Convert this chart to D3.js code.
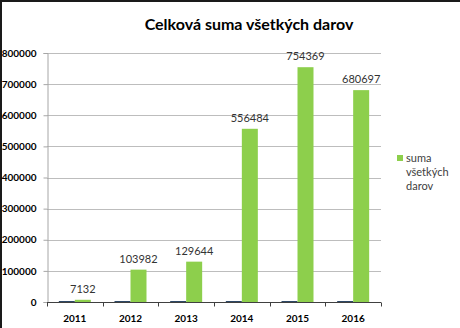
<!DOCTYPE html>
<html>
<head>
<meta charset="utf-8">
<script src="https://cdn.jsdelivr.net/npm/d3@7"></script>
<style>
  html, body { margin: 0; padding: 0; background: #fff; }
  svg { display: block; font-family: Lato, "Open Sans", sans-serif; }
</style>
</head>
<body>
<svg id="chart" width="460" height="328"></svg>
<script>
// chart data
const years = ['2011', '2012', '2013', '2014', '2015', '2016'];
const sumaDarov = [7132, 103982, 129644, 556484, 754369, 680697];
// second series, only visible as a hairline on the baseline
const druhaSeria = [3000, 3000, 3000, 3000, 3000, 3000];
const yTicks = [0, 100000, 200000, 300000, 400000, 500000, 600000, 700000, 800000];
const legendLines = ['suma', 'všetkých', 'darov'];

const width = 460, height = 328;
const plot = { left: 47, right: 381, top: 53, bottom: 302 };

const svg = d3.select('#chart');

// frame (top and left edge only)
svg.append('line').attr('x1', 0).attr('x2', width).attr('y1', 1).attr('y2', 1)
    .attr('stroke', '#1a1a1a').attr('stroke-width', 2);
svg.append('line').attr('x1', 1).attr('x2', 1).attr('y1', 0).attr('y2', height)
    .attr('stroke', '#1a1a1a').attr('stroke-width', 2);

// title
svg.append('text')
    .attr('x', 249).attr('y', 30)
    .attr('text-anchor', 'middle')
    .attr('font-size', 16).attr('font-weight', 'bold')
    .attr('fill', '#000')
    .text('Celková suma všetkých darov');

// scales
const x = d3.scaleBand().domain(years).range([plot.left, plot.right]).padding(0);
const y = d3.scaleLinear().domain([0, 800000]).range([plot.bottom, plot.top]);
const bw = x.bandwidth();
const sub = d3.scaleBand().domain(['druha', 'suma']).range([bw / 2 - 16, bw / 2 + 16]);

// gridlines
svg.append('g').selectAll('line')
    .data(yTicks.filter(d => d > 0))
    .enter().append('line')
    .attr('x1', plot.left).attr('x2', plot.right)
    .attr('y1', d => Math.round(y(d)) + 0.5).attr('y2', d => Math.round(y(d)) + 0.5)
    .attr('stroke', '#bdbdbd');

// y axis
const yAxis = svg.append('g')
    .attr('transform', `translate(${plot.left + 0.5},0)`)
    .call(d3.axisLeft(y).tickValues(yTicks).tickSize(4).tickPadding(7).tickFormat(d3.format('d')));
yAxis.select('.domain').attr('stroke', '#a6a6a6');
yAxis.selectAll('.tick line').attr('stroke', '#a6a6a6');
yAxis.selectAll('.tick text')
    .attr('font-size', 10).attr('font-weight', 'bold').attr('fill', '#000')
    .attr('font-family', 'Lato, sans-serif');

// bars
const groups = svg.append('g').selectAll('g')
    .data(years)
    .enter().append('g')
    .attr('transform', d => `translate(${x(d)},0)`);

groups.append('rect')
    .attr('x', sub('druha')).attr('width', sub.bandwidth())
    .attr('y', (d, i) => y(druhaSeria[i]))
    .attr('height', (d, i) => y(0) - y(druhaSeria[i]))
    .attr('fill', '#1f3b5c');

groups.append('rect')
    .attr('x', sub('suma')).attr('width', sub.bandwidth())
    .attr('y', (d, i) => y(sumaDarov[i]))
    .attr('height', (d, i) => y(0) - y(sumaDarov[i]))
    .attr('fill', '#8dcf4c');

// data labels
groups.append('text')
    .attr('x', sub('suma') + sub.bandwidth() / 2)
    .attr('y', (d, i) => y(sumaDarov[i]) - 7)
    .attr('text-anchor', 'middle')
    .attr('font-size', 11).attr('fill', '#333')
    .text((d, i) => sumaDarov[i]);

// x axis with ticks on category boundaries
const xAxis = svg.append('g').attr('transform', `translate(0,${plot.bottom + 0.5})`);
xAxis.append('line')
    .attr('x1', plot.left).attr('x2', plot.right)
    .attr('stroke', '#404040');
xAxis.selectAll('line.tick')
    .data(years.map(d => x(d)).concat([plot.right]))
    .enter().append('line')
    .attr('class', 'tick')
    .attr('x1', d => Math.round(d) + 0.5).attr('x2', d => Math.round(d) + 0.5)
    .attr('y1', 0).attr('y2', 4)
    .attr('stroke', '#404040');
xAxis.selectAll('text')
    .data(years)
    .enter().append('text')
    .attr('x', d => x(d) + bw / 2)
    .attr('y', 19)
    .attr('text-anchor', 'middle')
    .attr('font-size', 10).attr('font-weight', 'bold').attr('fill', '#000')
    .text(d => d);

// legend
const legend = svg.append('g');
legend.append('rect')
    .attr('x', 397).attr('y', 155).attr('width', 6).attr('height', 6)
    .attr('fill', '#8dcf4c');
legend.selectAll('text')
    .data(legendLines)
    .enter().append('text')
    .attr('x', 406)
    .attr('y', (d, i) => 162 + i * 14)
    .attr('font-size', 11).attr('fill', '#404040')
    .text(d => d);
</script>
</body>
</html>
